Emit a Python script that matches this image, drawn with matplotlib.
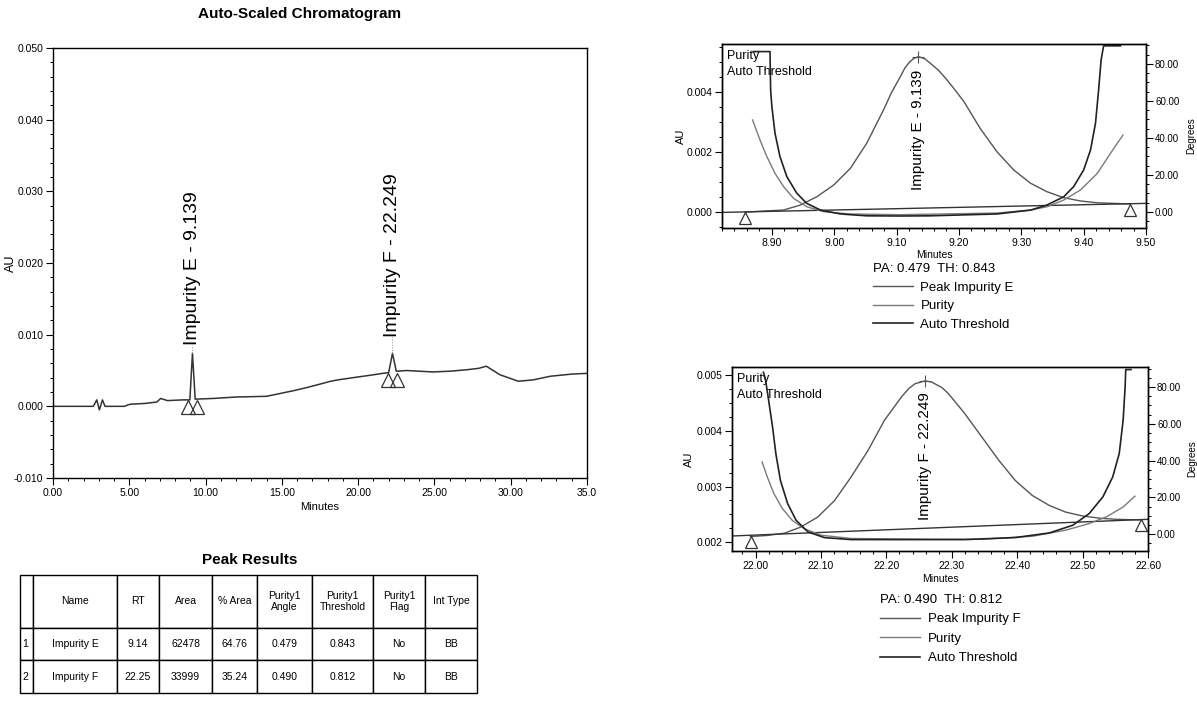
import matplotlib as mpl
mpl.use('Agg')

import matplotlib.pyplot as plt
from matplotlib.ticker import MultipleLocator, FormatStrFormatter

plt.rcParams['font.family'] = ['Liberation Sans', 'DejaVu Sans']
NARROW = ['Liberation Sans Narrow', 'Liberation Sans', 'DejaVu Sans']

# ---------------- data ----------------
# main chromatogram (minutes, AU)
chrom_t = [0.00, 1.00, 2.00, 2.64, 2.87, 3.04, 3.24, 3.41, 4.00, 4.70,
           4.90, 5.10, 6.00, 6.80, 7.06, 7.50, 8.50, 8.97, 9.14, 9.32,
           10.5, 12.0, 14.0, 14.9, 15.8, 16.6, 17.5, 18.2, 18.7, 20.0,
           21.0, 21.6, 22.00, 22.25, 22.50, 23.2, 24.0, 24.9, 26.0, 27.1,
           27.9, 28.4, 29.3, 30.5, 31.5, 32.6, 34.0, 35.0]
chrom_au = [0.0000, 0.0000, 0.0000, 0.0000, 0.0009, -0.0005, 0.0009, 0.0000, 0.0000, 0.0000,
            0.0002, 0.0003, 0.0004, 0.0006, 0.0011, 0.0008, 0.0009, 0.0009, 0.0074, 0.0010,
            0.0011, 0.0013, 0.0014, 0.0018, 0.0022, 0.0026, 0.0031, 0.0035, 0.0037, 0.0041,
            0.0044, 0.0046, 0.0047, 0.0074, 0.0049, 0.0050, 0.0049, 0.0048, 0.0049, 0.0051,
            0.0053, 0.0056, 0.0044, 0.0035, 0.0037, 0.0042, 0.0045, 0.0046]
peak_rt = [9.14, 22.25]
peak_top = [0.0074, 0.0074]
peak_labels = ['Impurity E - 9.139', 'Impurity F - 22.249']
label_base = [0.0086, 0.0097]
marks_t = [8.85, 9.45, 21.95, 22.55]
marks_au = [-0.0001, -0.0001, 0.0037, 0.0037]
x_ticks = [0, 5, 10, 15, 20, 25, 30, 35]
x_tick_labels = ['0.00', '5.00', '10.00', '15.00', '20.00', '25.00', '30.00', '35.0']

# peak purity plot, impurity E
peakE_t = [8.857, 8.919, 8.945, 8.972, 8.999, 9.026, 9.052, 9.079, 9.092, 9.106,
           9.113, 9.120, 9.127, 9.135, 9.145, 9.154, 9.167, 9.181, 9.194, 9.208,
           9.234, 9.261, 9.288, 9.315, 9.341, 9.368, 9.395, 9.422, 9.475]
peakE_au = [-0.00001, 0.00006, 0.00022, 0.00050, 0.00089, 0.00145, 0.00228, 0.00339, 0.00398, 0.00450,
            0.00478, 0.00497, 0.00510, 0.00517, 0.00510, 0.00495, 0.00472, 0.00439, 0.00405, 0.00367,
            0.00278, 0.00200, 0.00139, 0.00095, 0.00067, 0.00047, 0.00036, 0.00030, 0.00026]
purE_t = [8.869, 8.881, 8.892, 8.905, 8.919, 8.935, 8.956, 8.983, 9.026, 9.106,
          9.261, 9.315, 9.341, 9.368, 9.395, 9.422, 9.443, 9.463]
purE_deg = [49.7, 38.8, 29.8, 20.8, 13.5, 7.2, 2.7, 0.0, -1.2, -1.6,
            -0.7, 0.9, 2.7, 6.3, 11.8, 20.8, 31.6, 41.5]
thrE_t = [8.870, 8.897, 8.898, 8.900, 8.905, 8.913, 8.924, 8.940, 8.956, 8.978,
          9.010, 9.052, 9.106, 9.154, 9.261, 9.315, 9.341, 9.368, 9.384, 9.400,
          9.411, 9.419, 9.424, 9.428, 9.432, 9.459]
thrE_deg = [86.7, 86.7, 65.9, 56.9, 42.5, 29.8, 19.0, 10.0, 4.5, 0.9,
            -1.2, -2.2, -2.3, -2.2, -1.2, 0.9, 3.6, 8.1, 13.6, 22.6,
            33.4, 47.9, 65.9, 82.2, 89.8, 89.8]
baseE_t = [8.82, 9.50]
baseE_au = [-0.00002, 0.00028]
triE_t = [8.857, 9.474]
triE_au = [-0.00022, 0.00006]

# peak purity plot, impurity F
peakF_t = [21.992, 22.018, 22.044, 22.069, 22.095, 22.121, 22.146, 22.172, 22.197, 22.223,
           22.234, 22.244, 22.259, 22.269, 22.285, 22.295, 22.320, 22.346, 22.372, 22.397,
           22.423, 22.449, 22.474, 22.500, 22.526, 22.551, 22.587]
peakF_au = [0.00210, 0.00212, 0.00216, 0.00227, 0.00245, 0.00275, 0.00317, 0.00365, 0.00419, 0.00461,
            0.00476, 0.00485, 0.00490, 0.00488, 0.00478, 0.00467, 0.00431, 0.00389, 0.00347, 0.00311,
            0.00284, 0.00266, 0.00254, 0.00247, 0.00243, 0.00241, 0.00240]
purF_t = [22.010, 22.018, 22.028, 22.041, 22.056, 22.074, 22.100, 22.146, 22.274, 22.346,
          22.423, 22.474, 22.510, 22.536, 22.562, 22.580]
purF_deg = [39.3, 31.1, 22.1, 14.0, 7.6, 3.1, -0.5, -2.3, -2.7, -2.7,
            -1.1, 2.2, 5.8, 9.4, 14.8, 20.7]
thrF_t = [22.012, 22.015, 22.020, 22.026, 22.031, 22.038, 22.049, 22.062, 22.080, 22.105,
          22.146, 22.274, 22.320, 22.397, 22.449, 22.485, 22.510, 22.531, 22.546, 22.556,
          22.562, 22.565, 22.566, 22.574]
thrF_deg = [88.0, 84.6, 72.8, 58.3, 43.9, 29.3, 16.7, 7.6, 1.3, -1.8,
            -2.9, -2.9, -2.9, -1.8, 0.7, 4.9, 11.2, 20.3, 31.1, 43.8,
            62.0, 80.0, 89.5, 89.5]
baseF_t = [21.964, 22.60]
baseF_au = [0.00211, 0.00241]
triF_t = [21.993, 22.590]
triF_au = [0.00200, 0.00230]

# peak results table
table_header = ['', 'Name', 'RT', 'Area', '% Area', 'Purity1\nAngle',
                'Purity1\nThreshold', 'Purity1\nFlag', 'Int Type']
table_rows = [['1', 'Impurity E', '9.14', '62478', '64.76', '0.479', '0.843', 'No', 'BB'],
              ['2', 'Impurity F', '22.25', '33999', '35.24', '0.490', '0.812', 'No', 'BB']]

W, H = 1197, 702
fig = plt.figure(figsize=(W / 100, H / 100), dpi=100)


def ticks_style(ax, size=7.5, pad=2):
    ax.tick_params(which='major', direction='out', length=5, width=0.8, labelsize=size, pad=pad)
    ax.tick_params(which='minor', direction='out', length=2.5, width=0.7)
    for lab in ax.get_xticklabels() + ax.get_yticklabels():
        lab.set_family(NARROW)


# ---------------- main chromatogram ----------------
ax = fig.add_axes([53 / W, 1 - 478 / H, 534 / W, 430 / H])
ax.plot(chrom_t, chrom_au, color='#333333', lw=1.1)
ax.plot(marks_t, marks_au, ls='none', marker='^', ms=10, mfc='none', mec='#333333', mew=0.9)
for rt, top, lab, lb in zip(peak_rt, peak_top, peak_labels, label_base):
    ax.vlines(rt, top, lb, colors='#888888', linestyles=':', lw=0.7)
    ax.text(rt, lb, lab, rotation=90, ha='center', va='bottom', fontsize=14)
ax.set_xlim(0, 35)
ax.set_ylim(-0.010, 0.050)
ax.set_xticks(x_ticks, x_tick_labels)
ax.xaxis.set_minor_locator(MultipleLocator(1))
ax.yaxis.set_major_locator(MultipleLocator(0.01))
ax.yaxis.set_minor_locator(MultipleLocator(0.002))
ax.yaxis.set_major_formatter(FormatStrFormatter('%.3f'))
ticks_style(ax, 7.5)
ax.set_xlabel('Minutes', fontsize=8, family=NARROW, labelpad=3)
ax.set_ylabel('AU', fontsize=9)
ax.yaxis.set_label_coords(-0.068, 0.5)
for s in ax.spines.values():
    s.set_linewidth(1.0)
fig.text(300 / W, 1 - 14 / H, 'Auto-Scaled Chromatogram', ha='center', va='center',
         fontsize=11, fontweight='bold', family=NARROW)


# ---------------- purity panels ----------------
def purity_panel(rect, pk_t, pk_au, pu_t, pu_deg, th_t, th_deg, b_t, b_au, tr_t, tr_au,
                 xlim, ylim, y2lim, ystep, xticks, rt_label, lab_lo, peak_name, pa_text,
                 leg_xy, au_x, deg_x, spacing):
    a = fig.add_axes(rect)
    hp, = a.plot(pk_t, pk_au, color='#555555', lw=1.0)
    a.plot(b_t, b_au, color='#333333', lw=1.0)
    a.plot(tr_t, tr_au, ls='none', marker='^', ms=8, mfc='none', mec='#333333', mew=0.9)
    apex = max(pk_au)
    rt = pk_t[pk_au.index(apex)]
    a.text(rt, lab_lo, rt_label, rotation=90, ha='center', va='bottom', fontsize=11)
    a.plot(rt, apex, marker='+', ms=9, color='#555555', mew=0.8)
    a.set_xlim(*xlim)
    a.set_ylim(*ylim)
    a.set_xticks(xticks, ['%.2f' % v for v in xticks])
    a.xaxis.set_minor_locator(MultipleLocator(0.02))
    a.yaxis.set_major_locator(MultipleLocator(ystep))
    a.yaxis.set_minor_locator(MultipleLocator(ystep / 4))
    a.yaxis.set_major_formatter(FormatStrFormatter('%.3f'))
    ticks_style(a, 7.5)
    a.set_xlabel('Minutes', fontsize=7.5, family=NARROW, labelpad=2)
    a.set_ylabel('AU', fontsize=8)
    a.yaxis.set_label_coords(au_x, 0.5)
    a.text(0.012, 0.97, 'Purity\nAuto Threshold', transform=a.transAxes, ha='left', va='top',
           fontsize=9, linespacing=1.45)

    b = a.twinx()
    hu, = b.plot(pu_t, pu_deg, color='#7a7a7a', lw=1.0)
    ht, = b.plot(th_t, th_deg, color='#222222', lw=1.2)
    b.set_ylim(*y2lim)
    b.yaxis.set_major_locator(MultipleLocator(20))
    b.yaxis.set_minor_locator(MultipleLocator(5))
    b.yaxis.set_major_formatter(FormatStrFormatter('%.2f'))
    ticks_style(b, 7, pad=1.5)
    b.set_ylabel('Degrees', fontsize=7, family=NARROW)
    b.yaxis.set_label_coords(deg_x, 0.5)
    for s in list(a.spines.values()) + list(b.spines.values()):
        s.set_linewidth(1.0)

    a.legend([hp, hu, ht], ['Peak ' + peak_name, 'Purity', 'Auto Threshold'],
             title=pa_text, loc='upper left', bbox_to_anchor=leg_xy,
             bbox_transform=fig.transFigure, frameon=False, alignment='left',
             fontsize=9.5, title_fontsize=9.5, handlelength=3.0, handletextpad=0.6,
             labelspacing=spacing, borderpad=0, borderaxespad=0)


purity_panel([722 / W, 1 - 228 / H, 424 / W, 184 / H],
             peakE_t, peakE_au, purE_t, purE_deg, thrE_t, thrE_deg,
             baseE_t, baseE_au, triE_t, triE_au,
             (8.82, 9.50), (-0.00054, 0.00559), (-8.8, 90.8), 0.002,
             [8.9, 9.0, 9.1, 9.2, 9.3, 9.4, 9.5], 'Impurity E - 9.139', 0.00072,
             'Impurity E', 'PA: 0.479  TH: 0.843', (873 / W, 1 - 263 / H),
             -0.085, 1.094, 0.48)

purity_panel([732 / W, 1 - 551 / H, 416 / W, 184 / H],
             peakF_t, peakF_au, purF_t, purF_deg, thrF_t, thrF_deg,
             baseF_t, baseF_au, triF_t, triF_au,
             (21.964, 22.60), (0.00184, 0.00515), (-9.1, 90.9), 0.001,
             [22.0, 22.1, 22.2, 22.3, 22.4, 22.5, 22.6], 'Impurity F - 22.249', 0.00239,
             'Impurity F', 'PA: 0.490  TH: 0.812', (880 / W, 1 - 594 / H),
             -0.092, 1.094, 0.55)

# ---------------- peak results table ----------------
tax = fig.add_axes([20 / W, 1 - 693 / H, 457 / W, 118 / H])
tax.axis('off')
col_w = [13, 84, 42, 53, 45, 55, 61, 52, 52]
tbl = tax.table(cellText=table_rows, colLabels=table_header, colWidths=col_w,
                cellLoc='center', bbox=[0, 0, 1, 1])
tbl.auto_set_font_size(False)
tbl.set_fontsize(7.5)
for (r, c), cell in tbl.get_celld().items():
    cell.set_height(52 if r == 0 else 32)
    cell.set_linewidth(1.0)
    cell.get_text().set_family(NARROW)
    if c == 0 and r > 0:
        cell.get_text().set_ha('left')
        cell._loc = 'left'
        cell.PAD = 0.15
fig.text(250 / W, 1 - 560 / H, 'Peak Results', ha='center', va='center',
         fontsize=11, fontweight='bold', family=NARROW)

fig.savefig('out.png', dpi=100)
